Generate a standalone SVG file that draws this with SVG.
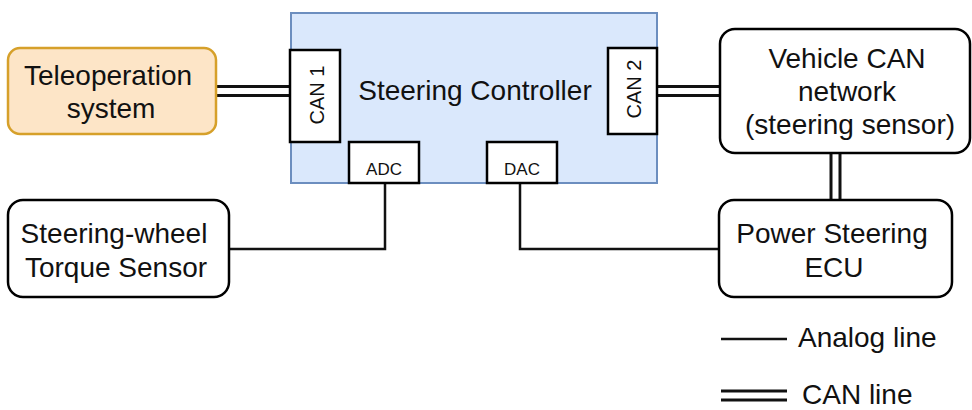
<svg xmlns="http://www.w3.org/2000/svg" width="972" height="410" viewBox="0 0 972 410">
<style>
text{font-family:"Liberation Sans",Arial,sans-serif;fill:#111;}
.t{font-size:28px;text-anchor:middle;}
.p{font-size:20px;text-anchor:middle;dominant-baseline:central;}
.s{font-size:17px;text-anchor:middle;}
.box{fill:#fff;stroke:#000;stroke-width:2.5;}
.port{fill:#fff;stroke:#000;stroke-width:2.5;}
.an{fill:none;stroke:#111;stroke-width:2.5;}
.co{fill:none;stroke:#111;stroke-width:12;}
.ci{fill:none;stroke:#fff;stroke-width:6;}
</style>
<rect width="972" height="410" fill="#fff"/>
<g id="connectors">
  <path class="an" d="M385 183 V249 H229"/>
  <path class="an" d="M520 183 V249 H719"/>
  <path class="co" d="M216 91 H290"/><path class="ci" d="M214 91 H292"/>
  <path class="co" d="M657 91 H720"/><path class="ci" d="M655 91 H722"/>
  <path class="co" d="M835.5 153 V200"/><path class="ci" d="M835.5 151 V202"/>
</g>
<g id="controller">
  <rect x="291" y="13" width="366" height="170" fill="#dae8fc" stroke="#6c8ebf" stroke-width="2"/>
  <text class="t" x="475" y="100">Steering Controller</text>
</g>
<g id="can1">
  <rect class="port" x="290" y="50" width="50" height="92"/>
  <text class="p" transform="translate(317,95) rotate(-90)">CAN 1</text>
</g>
<g id="can2">
  <rect class="port" x="608" y="48" width="49" height="86"/>
  <text class="p" transform="translate(634,89) rotate(-90)">CAN 2</text>
</g>
<g id="adc">
  <rect class="port" x="349" y="142" width="70" height="41"/>
  <text class="s" x="384" y="175">ADC</text>
</g>
<g id="dac">
  <rect class="port" x="487" y="142" width="70" height="41"/>
  <text class="s" x="522" y="175">DAC</text>
</g>
<g id="teleoperation">
  <rect x="8" y="48" width="208" height="86" rx="12" fill="#fde5c7" stroke="#d6a02a" stroke-width="2.5"/>
  <text class="t" x="108" y="85">Teleoperation</text>
  <text class="t" x="111" y="118">system</text>
</g>
<g id="vehicle-can">
  <rect class="box" x="720" y="29" width="250" height="124" rx="15"/>
  <text class="t" x="847" y="67.5">Vehicle CAN</text>
  <text class="t" x="847" y="101">network</text>
  <text class="t" x="850" y="134">(steering sensor)</text>
</g>
<g id="torque-sensor">
  <rect class="box" x="8" y="200" width="221" height="97" rx="15"/>
  <text class="t" x="114" y="243">Steering-wheel</text>
  <text class="t" x="116" y="277">Torque Sensor</text>
</g>
<g id="power-steering">
  <rect class="box" x="719" y="200" width="233" height="97" rx="15"/>
  <text class="t" x="832" y="243">Power Steering</text>
  <text class="t" x="834" y="277">ECU</text>
</g>
<g id="legend">
  <path class="an" d="M721 339 H787"/>
  <text x="798" y="347" font-size="28">Analog line</text>
  <path class="co" d="M721 395.5 H787" stroke-width="11"/><path class="ci" d="M719 395.5 H789" stroke-width="5.5"/>
  <text x="802" y="404" font-size="28">CAN line</text>
</g>
</svg>
